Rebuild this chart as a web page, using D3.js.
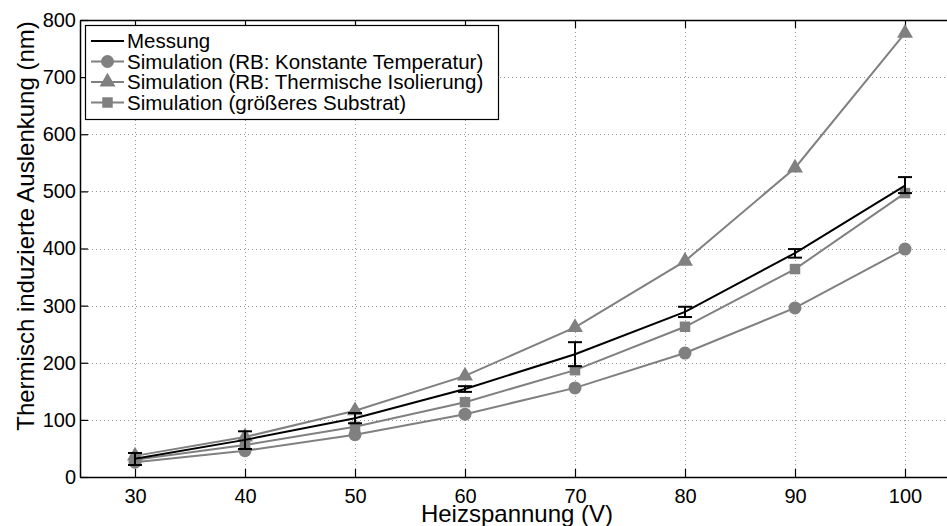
<!DOCTYPE html>
<html>
<head>
<meta charset="utf-8">
<script src="https://cdn.jsdelivr.net/npm/d3@7/dist/d3.min.js"></script>
<style>
  html, body { margin: 0; padding: 0; background: #fff; }
  svg { display: block; font-family: "Liberation Sans", Arial, sans-serif; }
</style>
</head>
<body>
<svg id="chart" width="947" height="526"></svg>
<script>
// Heating voltage (V)
const voltages = [30, 40, 50, 60, 70, 80, 90, 100];

// Measured deflection (nm) with error bar bounds
const messung = [32, 65, 103, 154, 215, 289, 392, 510];
const messungLow = [21, 49, 94, 149, 194, 280, 384, 497];
const messungHigh = [42, 80, 112, 159, 236, 298, 399, 525];

// Simulations (nm)
const simKonstant = [26, 46, 74, 110, 156, 217, 296, 399];
const simIsolierung = [37, 70, 116, 177, 262, 378, 541, 777];
const simSubstrat = [30, 56, 88, 131, 187, 263, 364, 497];

const xTicks = [30, 40, 50, 60, 70, 80, 90, 100];
const yTicks = [0, 100, 200, 300, 400, 500, 600, 700, 800];

const legendLabels = [
  "Messung",
  "Simulation (RB: Konstante Temperatur)",
  "Simulation (RB: Thermische Isolierung)",
  "Simulation (größeres Substrat)"
];

const svg = d3.select("#chart");
const W = 947, H = 526;
const plotLeft = 80, plotRight = 960, plotTop = 20, plotBottom = 477;
const gray = "#808080";

const x = d3.scaleLinear().domain([25, 105]).range([plotLeft, plotRight]);
const y = d3.scaleLinear().domain([0, 800]).range([plotBottom, plotTop]);

// dotted grid
const grid = svg.append("g").attr("stroke", "#999").attr("stroke-width", 1)
  .attr("stroke-dasharray", "1,3");
grid.selectAll(".gx").data(xTicks).join("line")
  .attr("x1", d => x(d) + 0.5).attr("x2", d => x(d) + 0.5)
  .attr("y1", plotTop).attr("y2", plotBottom);
grid.selectAll(".gy").data(yTicks.slice(1, -1)).join("line")
  .attr("x1", plotLeft).attr("x2", W)
  .attr("y1", d => Math.round(y(d)) + 0.5).attr("y2", d => Math.round(y(d)) + 0.5);

// axes with inward ticks
const axisB = svg.append("g").attr("transform", `translate(0,${plotBottom})`)
  .call(d3.axisBottom(x).tickValues(xTicks).tickSize(-8).tickPadding(12).tickSizeOuter(0));
const axisT = svg.append("g").attr("transform", `translate(0,${plotTop})`)
  .call(d3.axisTop(x).tickValues(xTicks).tickSize(-8).tickFormat("").tickSizeOuter(0));
const axisL = svg.append("g").attr("transform", `translate(${plotLeft},0)`)
  .call(d3.axisLeft(y).tickValues(yTicks).tickSize(-8).tickPadding(4).tickSizeOuter(0));
[axisB, axisT, axisL].forEach(a => {
  a.selectAll("path.domain").attr("stroke", "#000").attr("stroke-width", 1.5);
  a.selectAll(".tick line").attr("stroke", "#000").attr("stroke-width", 1.2);
  a.selectAll("text").attr("fill", "#000").attr("font-size", 20)
    .attr("font-family", "Liberation Sans, Arial, sans-serif");
});
axisB.selectAll("text").attr("dy", "0.71em");
axisL.selectAll("text").attr("x", -4);

// axis titles
svg.append("text").attr("x", 517).attr("y", 522)
  .attr("text-anchor", "middle").attr("font-size", 24).text("Heizspannung (V)");
svg.append("text")
  .attr("transform", `translate(34,226) rotate(-90)`)
  .attr("text-anchor", "middle").attr("font-size", 24)
  .text("Thermisch induzierte Auslenkung (nm)");

const line = d3.line().x(d => x(d[0])).y(d => y(d[1]));
const pts = arr => voltages.map((v, i) => [v, arr[i]]);

const triPath = d3.symbol().type(d3.symbolTriangle).size(110)();
const sqPath = d3.symbol().type(d3.symbolSquare).size(110)();

function drawMarker(g, marker, cx, cy) {
  if (marker === "circle") g.append("circle").attr("cx", cx).attr("cy", cy).attr("r", 6.5);
  else if (marker === "triangle") g.append("path").attr("d", triPath).attr("transform", `translate(${cx},${cy})`);
  else g.append("path").attr("d", sqPath).attr("transform", `translate(${cx},${cy})`);
}
function drawSeries(vals, marker) {
  svg.append("path").datum(pts(vals)).attr("d", line)
    .attr("fill", "none").attr("stroke", gray).attr("stroke-width", 2);
  const g = svg.append("g").attr("fill", gray);
  pts(vals).forEach(p => drawMarker(g, marker, x(p[0]), y(p[1])));
}

drawSeries(simKonstant, "circle");
drawSeries(simSubstrat, "square");
drawSeries(simIsolierung, "triangle");

// measurement with error bars
svg.append("path").datum(pts(messung)).attr("d", line)
  .attr("fill", "none").attr("stroke", "#000").attr("stroke-width", 2);
const eb = svg.append("g").attr("stroke", "#000").attr("stroke-width", 2);
voltages.forEach((v, i) => {
  const cx = x(v);
  eb.append("line").attr("x1", cx).attr("x2", cx)
    .attr("y1", y(messungLow[i])).attr("y2", y(messungHigh[i]));
  [messungLow[i], messungHigh[i]].forEach(b => {
    eb.append("line").attr("x1", cx - 7).attr("x2", cx + 7)
      .attr("y1", y(b)).attr("y2", y(b));
  });
});

// legend
const lg = svg.append("g");
lg.append("rect").attr("x", 85.5).attr("y", 25.5).attr("width", 413).attr("height", 94)
  .attr("fill", "#fff").attr("stroke", "#000").attr("stroke-width", 1.2);
const legendMarkers = [null, "circle", "triangle", "square"];
legendLabels.forEach((lab, i) => {
  const ly = 41 + i * 20.5;
  lg.append("line").attr("x1", 91).attr("x2", 124).attr("y1", ly).attr("y2", ly)
    .attr("stroke", i === 0 ? "#000" : gray).attr("stroke-width", 2);
  if (legendMarkers[i]) drawMarker(lg.append("g").attr("fill", gray), legendMarkers[i], 107.5, ly);
  lg.append("text").attr("x", 127).attr("y", ly).attr("dy", "0.35em")
    .attr("font-size", 20.5).text(lab);
});
</script>
</body>
</html>
